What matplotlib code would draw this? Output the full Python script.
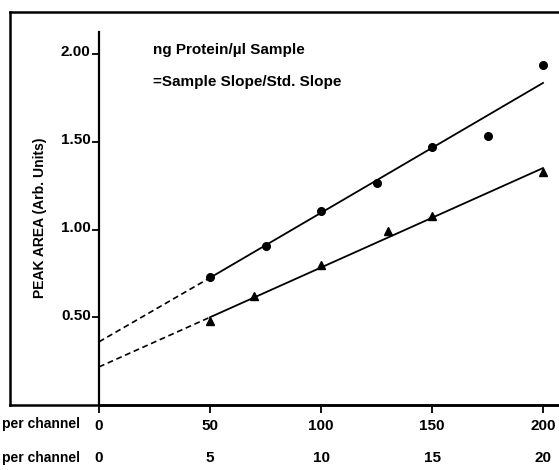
import matplotlib
matplotlib.use("Agg")
import matplotlib.pyplot as plt
import matplotlib.transforms as mtransforms

plt.rcParams['font.family'] = ['Liberation Sans', 'DejaVu Sans']
plt.rcParams['font.weight'] = 'bold'

# measured points (ng per channel vs peak area)
circle_x = [50, 75, 100, 125, 150, 175, 200]
circle_y = [0.73, 0.905, 1.105, 1.265, 1.47, 1.53, 1.94]
tri_x = [50, 70, 100, 130, 150, 200]
tri_y = [0.48, 0.62, 0.80, 0.99, 1.075, 1.33]

# fitted lines: dashed extrapolation to zero, solid over the data
fit_x_dash = [0, 50]
fit_x_solid = [50, 200]
circle_fit_dash = [0.36, 0.725]
circle_fit_solid = [0.725, 1.835]
tri_fit_dash = [0.217, 0.50]
tri_fit_solid = [0.50, 1.35]

xticks = [0, 50, 100, 150, 200]
xticks2 = ['0', '5', '10', '15', '20']
yticks = [0.5, 1.0, 1.5, 2.0]

FS = 11
W, H = 559, 470
fig = plt.figure(figsize=(W / 100, H / 100), dpi=100)

# outer frame of the scanned figure
frame = fig.add_axes([10 / W, (H - 405) / H, (W - 10) / W, (405 - 12) / H])
frame.set_xticks([])
frame.set_yticks([])
frame.patch.set_alpha(0)
for s in ['left', 'top', 'bottom']:
    frame.spines[s].set_linewidth(1.8)
frame.spines['right'].set_visible(False)

# inner plotting axes
ax = fig.add_axes([99 / W, (H - 405) / H, (W - 99) / W, (405 - 32) / H])
ax.patch.set_alpha(0)
ax.set_xlim(0, (W - 99) / 2.22)
ax.set_ylim(0, (405 - 32) / 175.5)
ax.spines['top'].set_visible(False)
ax.spines['right'].set_visible(False)
ax.spines['left'].set_linewidth(1.6)
ax.spines['bottom'].set_linewidth(1.8)

ax.plot(fit_x_dash, circle_fit_dash, ls=(0, (3.5, 2.2)), color='black', lw=1.2)
ax.plot(fit_x_solid, circle_fit_solid, color='black', lw=1.3)
ax.plot(fit_x_dash, tri_fit_dash, ls=(0, (3.5, 2.2)), color='black', lw=1.2)
ax.plot(fit_x_solid, tri_fit_solid, color='black', lw=1.3)
ax.plot(circle_x, circle_y, 'o', color='black', ms=5.5, clip_on=False)
ax.plot(tri_x, tri_y, '^', color='black', ms=6, clip_on=False)

ax.set_xticks(xticks)
ax.set_xticklabels([str(v) for v in xticks], fontsize=FS, fontweight='bold')
ax.set_yticks(yticks)
ax.set_yticklabels(['%.2f' % v for v in yticks], fontsize=FS, fontweight='bold')
ax.tick_params(axis='x', direction='out', length=6, width=1.3, pad=4)
ax.tick_params(axis='y', direction='out', length=5, width=1.3, pad=1)
shift = mtransforms.ScaledTranslation(0, 3 / 100, fig.dpi_scale_trans)
for lab in ax.get_yticklabels():
    lab.set_transform(lab.get_transform() + shift)

# second row of x labels
trans = mtransforms.blended_transform_factory(ax.transData, fig.transFigure)
for v, lab in zip(xticks, xticks2):
    ax.text(v, 1 - 458 / H, lab, transform=trans, ha='center', va='center',
            fontsize=FS, fontweight='bold', clip_on=False)

fig.text(80 / W, 1 - 424 / H, 'per channel', ha='right', va='center',
         fontsize=10, fontweight='bold')
fig.text(80 / W, 1 - 458 / H, 'per channel', ha='right', va='center',
         fontsize=10, fontweight='bold')

fig.text(153 / W, 1 - 50 / H, 'ng Protein/µl Sample', ha='left', va='center',
         fontsize=FS, fontweight='bold')
fig.text(153 / W, 1 - 82 / H, '=Sample Slope/Std. Slope', ha='left', va='center',
         fontsize=FS, fontweight='bold')

fig.text(40 / W, 1 - 218 / H, 'PEAK AREA (Arb. Units)', rotation=90,
         ha='center', va='center', fontsize=10, fontweight='bold')

fig.savefig('out.png', dpi=100)
